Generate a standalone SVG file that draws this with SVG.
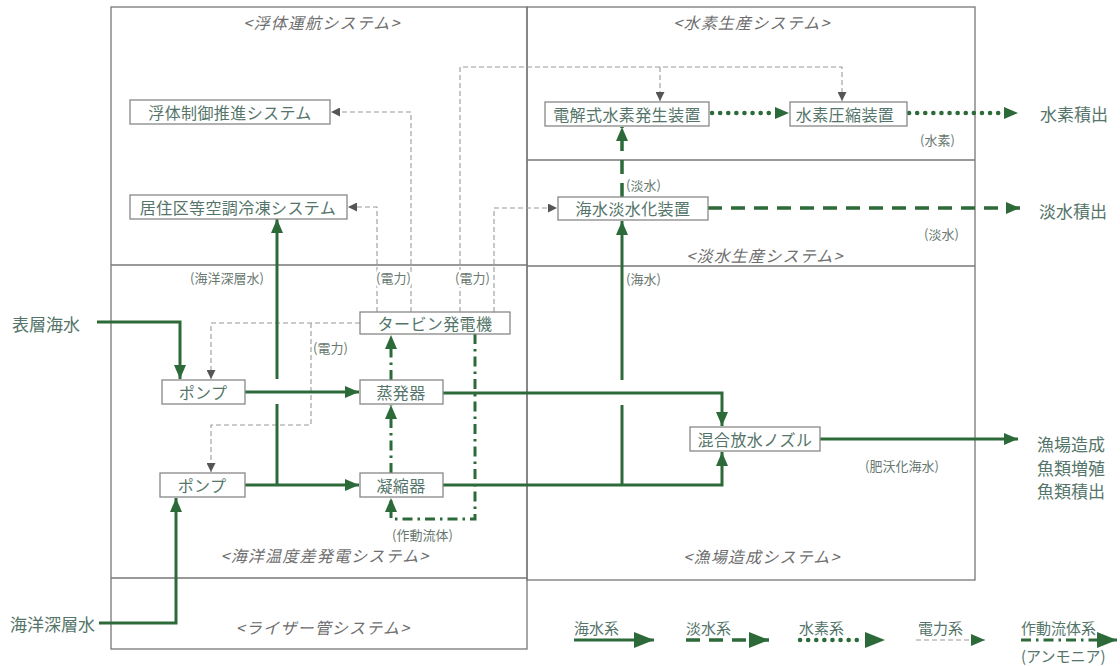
<svg xmlns="http://www.w3.org/2000/svg" width="1120" height="666" viewBox="0 0 1120 666">
<style>
text{font-family:"Noto Sans CJK JP","Noto Sans",sans-serif;fill:#55756a;}
.node{font-size:16px;letter-spacing:0.4px;text-anchor:middle;dominant-baseline:central;}
.box{fill:#fff;stroke:#888;stroke-width:1.3;}
.frame{fill:none;stroke:#777;stroke-width:1.3;}
.title{font-size:16px;letter-spacing:1.2px;font-style:italic;fill:#6e6e6e;text-anchor:middle;dominant-baseline:central;}
.lbl{font-size:13px;fill:#687870;dominant-baseline:central;}
.halo{stroke:#fff;stroke-width:5;paint-order:stroke;}
.out{font-size:17px;dominant-baseline:central;}
.leg{font-size:15px;dominant-baseline:central;}
.sea{fill:none;stroke:#2c6a39;stroke-width:3;}
.fresh{fill:none;stroke:#2c6a39;stroke-width:3.5;stroke-dasharray:14 9;}
.h2{fill:none;stroke:#2c6a39;stroke-width:4.5;stroke-dasharray:0.1 8;stroke-linecap:round;}
.wf{fill:none;stroke:#2c6a39;stroke-width:3;stroke-dasharray:10 5 2.5 5;}
.pw{fill:none;stroke:#9a9a9a;stroke-width:1.1;stroke-dasharray:5 3;}
</style>
<defs>
<marker id="ga" viewBox="0 0 14 12" refX="14" refY="6" markerWidth="14" markerHeight="12" markerUnits="userSpaceOnUse" orient="auto"><path d="M0,0 L14,6 L0,12 z" fill="#2c6a39"/></marker>
<marker id="gl" viewBox="0 0 20 16" refX="20" refY="8" markerWidth="20" markerHeight="16" markerUnits="userSpaceOnUse" orient="auto"><path d="M0,0 L20,8 L0,16 z" fill="#2c6a39"/></marker>
<marker id="gs" viewBox="0 0 14 12" refX="14" refY="6" markerWidth="14" markerHeight="12" markerUnits="userSpaceOnUse" orient="auto"><path d="M0,0 L14,6 L0,12 z" fill="#2c6a39"/></marker>
<marker id="pa" viewBox="0 0 9 9" refX="9" refY="4.5" markerWidth="9" markerHeight="9" markerUnits="userSpaceOnUse" orient="auto"><path d="M0,0 L9,4.5 L0,9 z" fill="#555"/></marker>
</defs>
<rect width="1120" height="666" fill="#fff"/>

<g id="frames">
<rect class="frame" x="111" y="7" width="416" height="642"/>
<line class="frame" x1="111" y1="265" x2="527" y2="265"/>
<line class="frame" x1="111" y1="578" x2="527" y2="578"/>
<rect class="frame" x="527" y="7" width="448" height="573"/>
<line class="frame" x1="527" y1="160" x2="975" y2="160"/>
<line class="frame" x1="527" y1="266" x2="975" y2="266"/>
<text class="title" x="322" y="22">&lt;浮体運航システム&gt;</text>
<text class="title" x="752" y="22">&lt;水素生産システム&gt;</text>
<text class="title" x="765" y="255">&lt;淡水生産システム&gt;</text>
<text class="title" x="325" y="555">&lt;海洋温度差発電システム&gt;</text>
<text class="title" x="762" y="556">&lt;漁場造成システム&gt;</text>
<text class="title" x="323" y="627">&lt;ライザー管システム&gt;</text>
</g>

<g id="connectors">
<!-- power -->
<path class="pw" d="M411,312 V112 H331" marker-end="url(#pa)"/>
<path class="pw" d="M377,312 V207 H348" marker-end="url(#pa)"/>
<path class="pw" d="M460,312 V67 H842 V101" marker-end="url(#pa)"/>
<path class="pw" d="M660,67 V101" marker-end="url(#pa)"/>
<path class="pw" d="M494,312 V208 H557" marker-end="url(#pa)"/>
<path class="pw" d="M360,323 H211 V379" marker-end="url(#pa)"/>
<path class="pw" d="M311,323 V425 H211 V472" marker-end="url(#pa)"/>
<!-- seawater -->
<path class="sea" d="M97,322 H180 V379" marker-end="url(#ga)"/>
<path class="sea" d="M99,623 H176 V498" marker-end="url(#ga)"/>
<path class="sea" d="M245,392 H359" marker-end="url(#ga)"/>
<path class="sea" d="M245,485 H359" marker-end="url(#ga)"/>
<path class="sea" d="M277,485 V404"/>
<path class="sea" d="M277,379 V219" marker-end="url(#ga)"/>
<path class="sea" d="M443,393 H722 V426" marker-end="url(#ga)"/>
<path class="sea" d="M443,485 H722 V452" marker-end="url(#ga)"/>
<path class="sea" d="M622,485 V405"/>
<path class="sea" d="M622,380 V221" marker-end="url(#ga)"/>
<path class="sea" d="M820,439 H1018" marker-end="url(#ga)"/>
<!-- fresh water -->
<path class="fresh" d="M708,208 H1020" marker-end="url(#ga)"/>
<path class="fresh" d="M622,197 V127" marker-end="url(#ga)"/>
<!-- hydrogen -->
<path class="h2" d="M712,113 H775"/>
<path d="M775,113 H789" stroke="none" marker-end="url(#ga)"/>
<path class="h2" d="M909,113 H1004"/>
<path d="M1004,113 H1018" stroke="none" marker-end="url(#ga)"/>
<!-- working fluid -->
<path class="wf" d="M391,473 V405" marker-end="url(#ga)"/>
<path class="wf" d="M391,380 V335" marker-end="url(#ga)"/>
<path class="wf" d="M475,334 V519 H391 V498" marker-end="url(#ga)"/>
</g>

<g id="labels">
<text class="lbl halo" x="376" y="277">(電力)</text>
<text class="lbl halo" x="455" y="277">(電力)</text>
<text class="lbl" x="313" y="347">(電力)</text>
<text class="lbl" x="190" y="277">(海洋深層水)</text>
<text class="lbl" x="626" y="278">(海水)</text>
<text class="lbl" x="626" y="184">(淡水)</text>
<text class="lbl" x="920" y="139">(水素)</text>
<text class="lbl" x="924" y="233">(淡水)</text>
<text class="lbl" x="865" y="465">(肥沃化海水)</text>
<text class="lbl halo" x="392" y="534">(作動流体)</text>
</g>

<g id="n-futai"><rect class="box" x="130" y="100" width="200" height="24"/><text class="node" x="230" y="112">浮体制御推進システム</text></g>
<g id="n-kyoju"><rect class="box" x="130" y="195" width="217" height="24"/><text class="node" x="238" y="207">居住区等空調冷凍システム</text></g>
<g id="n-denkai"><rect class="box" x="545" y="102" width="164" height="24"/><text class="node" x="627" y="114">電解式水素発生装置</text></g>
<g id="n-asshuku"><rect class="box" x="790" y="102" width="117" height="24"/><text class="node" x="845" y="114">水素圧縮装置</text></g>
<g id="n-tansui"><rect class="box" x="558" y="197" width="150" height="23"/><text class="node" x="633" y="208">海水淡水化装置</text></g>
<g id="n-turbine"><rect class="box" x="360" y="312" width="150" height="22"/><text class="node" x="435" y="323">タービン発電機</text></g>
<g id="n-pump1"><rect class="box" x="162" y="380" width="83" height="24"/><text class="node" x="203" y="392">ポンプ</text></g>
<g id="n-evap"><rect class="box" x="360" y="380" width="83" height="24"/><text class="node" x="401" y="392">蒸発器</text></g>
<g id="n-pump2"><rect class="box" x="160" y="473" width="85" height="24"/><text class="node" x="202" y="485">ポンプ</text></g>
<g id="n-cond"><rect class="box" x="360" y="473" width="83" height="24"/><text class="node" x="401" y="485">凝縮器</text></g>
<g id="n-nozzle"><rect class="box" x="690" y="427" width="130" height="24"/><text class="node" x="755" y="439">混合放水ノズル</text></g>

<g id="externals">
<text class="out" x="12" y="323">表層海水</text>
<text class="out" x="10" y="623">海洋深層水</text>
<text class="out" x="1040" y="113">水素積出</text>
<text class="out" x="1039" y="210">淡水積出</text>
<text class="out" x="1037" y="443">漁場造成</text>
<text class="out" x="1037" y="467">魚類増殖</text>
<text class="out" x="1037" y="490">魚類積出</text>
</g>

<g id="legend">
<text class="leg" x="574" y="627">海水系</text>
<path class="sea" d="M574,640 H654" marker-end="url(#gl)"/>
<text class="leg" x="686" y="627">淡水系</text>
<path class="fresh" d="M686,640 H769" stroke-dasharray="12 8" marker-end="url(#gl)"/>
<text class="leg" x="799" y="627">水素系</text>
<path class="h2" d="M800,640 H862"/>
<path d="M865,640 H885" stroke="none" marker-end="url(#gl)"/>
<text class="leg" x="918" y="627">電力系</text>
<path d="M916,640 H985" fill="none" stroke="#9a9a9a" stroke-width="1.2" stroke-dasharray="5 3" marker-end="url(#gs)"/>
<text class="leg" x="1021" y="627">作動流体系</text>
<path class="wf" d="M1021,640 H1117" marker-end="url(#gl)"/>
<text class="leg" x="1021" y="655">(アンモニア)</text>
</g>
</svg>
